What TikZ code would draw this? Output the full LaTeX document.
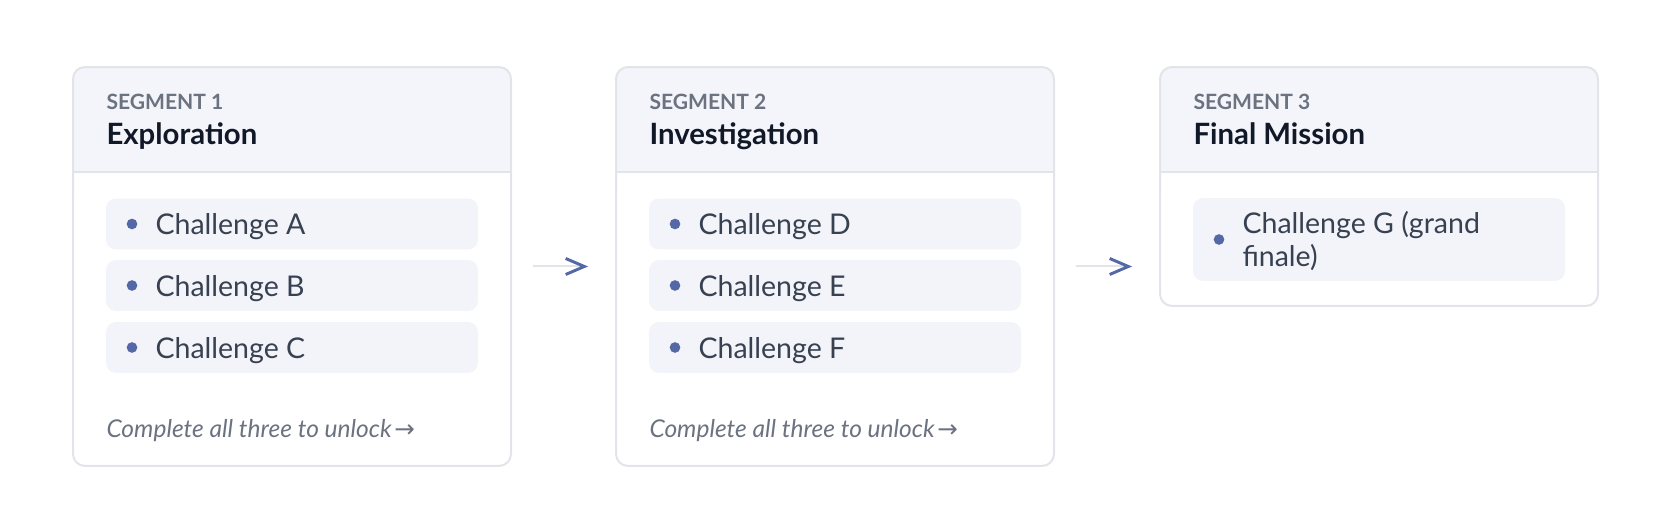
\documentclass[tikz,border=0pt]{standalone}
\usepackage{fontspec}
\setmainfont{Lato}
\newfontfamily\symfont{DejaVu Sans}
\usetikzlibrary{arrows.meta}
\definecolor{edge}{HTML}{E2E4EA}
\definecolor{headfill}{HTML}{F4F5FA}
\definecolor{itemfill}{HTML}{F3F4F9}
\definecolor{ink}{HTML}{111827}
\definecolor{itemink}{HTML}{374151}
\definecolor{muted}{HTML}{6B7280}
\definecolor{dot}{HTML}{5368A5}
\tikzset{
  segbox/.style={draw=edge,line width=0.75pt,rounded corners=4.5pt,minimum width=164.25pt,inner sep=0pt},
  item/.style={fill=itemfill,rounded corners=3.75pt,minimum width=139.5pt,minimum height=19.1pt,inner sep=0pt},
  itemtext/.style={anchor=base west,inner sep=0pt,text=itemink,font=\fontsize{10.7}{13}\selectfont},
  tag/.style={anchor=base west,inner sep=0pt,text=muted,font=\fontsize{7.9}{9}\selectfont\bfseries},
  title/.style={anchor=base west,inner sep=0pt,text=ink,font=\fontsize{11}{13}\selectfont\bfseries},
  note/.style={anchor=base west,inner sep=0pt,text=muted,font=\fontsize{9.2}{11}\selectfont\itshape},
  flow/.style={draw=edge,line width=0.75pt,shorten <=7.9pt,shorten >=10.1pt,
    -{Straight Barb[length=7pt,width=6pt,line width=1.1pt,color=dot]}}
}
\begin{document}
\begin{tikzpicture}[x=0.375pt,y=-0.375pt]
\useasboundingbox (0,0) rectangle (1672,532);
% segment 1
\begin{scope}
\fill[headfill,rounded corners=4.5pt] (73,67) rectangle (511,190);
\fill[white] (73,172) rectangle (511,195);
\node[segbox,minimum height=149.6pt] (seg1) at (292,266.5) {};
\draw[edge,line width=0.75pt] (73,172) -- (511,172);
\node[tag] (tag1) at (106,110) {SEGMENT 1};
\node[title] (title1) at (106,145) {Exploration};
\node[item] (i1a) at (292,224) {};
\node[item] (i1b) at (292,285.5) {};
\node[item] (i1c) at (292,347.5) {};
\fill[dot] (132,224) circle (2pt);
\fill[dot] (132,285.5) circle (2pt);
\fill[dot] (132,347.5) circle (2pt);
\node[itemtext] (t1a) at (155,235) {Challenge A};
\node[itemtext] (t1b) at (155,296.5) {Challenge B};
\node[itemtext] (t1c) at (155,358.5) {Challenge C};
\node[note] (n1) at (106,438) {Complete all three to unlock\hspace{1pt}{\symfont →}};
\end{scope}
% segment 2
\begin{scope}[shift={(543,0)}]
\fill[headfill,rounded corners=4.5pt] (73,67) rectangle (511,190);
\fill[white] (73,172) rectangle (511,195);
\node[segbox,minimum height=149.6pt] (seg2) at (292,266.5) {};
\draw[edge,line width=0.75pt] (73,172) -- (511,172);
\node[tag] (tag2) at (106,110) {SEGMENT 2};
\node[title] (title2) at (106,145) {Investigation};
\node[item] (i2d) at (292,224) {};
\node[item] (i2e) at (292,285.5) {};
\node[item] (i2f) at (292,347.5) {};
\fill[dot] (132,224) circle (2pt);
\fill[dot] (132,285.5) circle (2pt);
\fill[dot] (132,347.5) circle (2pt);
\node[itemtext] (t2d) at (155,235) {Challenge D};
\node[itemtext] (t2e) at (155,296.5) {Challenge E};
\node[itemtext] (t2f) at (155,358.5) {Challenge F};
\node[note] (n2) at (106,438) {Complete all three to unlock\hspace{1pt}{\symfont →}};
\end{scope}
% segment 3
\begin{scope}[shift={(1087,0)}]
\fill[headfill,rounded corners=4.5pt] (73,67) rectangle (511,190);
\fill[white] (73,172) rectangle (511,195);
\node[segbox,minimum height=89.6pt] (seg3) at (292,186.5) {};
\draw[edge,line width=0.75pt] (73,172) -- (511,172);
\node[tag] (tag3) at (106,110) {SEGMENT 3};
\node[title] (title3) at (106,145) {Final Mission};
\node[item,minimum height=31.1pt] (i3g) at (292,239.5) {};
\fill[dot] (132,239.5) circle (2pt);
\node[itemtext] (t3g) at (155,234) {Challenge G (grand};
\node[itemtext] (t3h) at (155,267) {finale)};
\end{scope}
% arrows between segments
\coordinate (in3) at (seg3.west |- seg2.east);
\draw[flow] (seg1.east) -- (seg2.west);
\draw[flow] (seg2.east) -- (in3);
\end{tikzpicture}
\end{document}
